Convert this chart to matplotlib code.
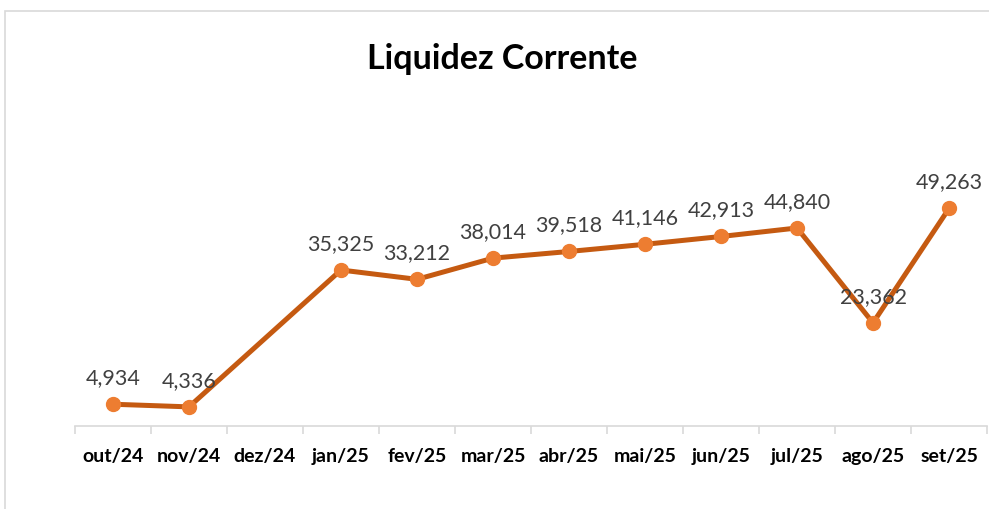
import matplotlib
matplotlib.use('agg')
import matplotlib.pyplot as plt
from matplotlib.patches import Rectangle
import numpy as np

plt.rcParams['font.family'] = ['Lato', 'DejaVu Sans']

months = ['out/24', 'nov/24', 'dez/24', 'jan/25', 'fev/25', 'mar/25',
          'abr/25', 'mai/25', 'jun/25', 'jul/25', 'ago/25', 'set/25']
liquidez = [4.934, 4.336, None, 35.325, 33.212, 38.014,
            39.518, 41.146, 42.913, 44.840, 23.362, 49.263]

line_color = '#C55A11'
marker_color = '#ED7D31'
label_color = '#404040'

fig = plt.figure(figsize=(9.89, 5.10), dpi=100)
ax = fig.add_axes([0.0758, 0.1627, 0.9222, 0.5196])

# chart border (Excel chart area)
fig.patches.append(Rectangle((5 / 989, -0.1), 1.2, 1 - 12 / 510 + 0.1,
                             transform=fig.transFigure, fill=False,
                             edgecolor='#D9D9D9', lw=1.2))

xs = [i for i, v in enumerate(liquidez) if v is not None]
ys = [v for v in liquidez if v is not None]
ax.plot(xs, ys, color=line_color, lw=3.6, solid_capstyle='round', zorder=2)
ax.plot(xs, ys, ls='none', marker='o', ms=10, color=marker_color, zorder=3)

for x, y in zip(xs, ys):
    ax.annotate('{:.3f}'.format(y).replace('.', ','), (x, y),
                xytext=(0, 19.5), textcoords='offset points',
                ha='center', va='center', fontsize=15.5, color=label_color)

ax.set_xlim(-0.5, len(months) - 0.5)
ax.set_ylim(0, 60)

for s in ['top', 'right', 'left']:
    ax.spines[s].set_visible(False)
ax.spines['bottom'].set_color('#D9D9D9')
ax.spines['bottom'].set_linewidth(1.2)
ax.set_yticks([])

ax.set_xticks(np.arange(len(months)))
ax.set_xticklabels(months, fontsize=14, fontweight='bold', color='black')
ax.tick_params(axis='x', which='major', length=0, pad=15)
ax.set_xticks(np.arange(len(months) + 1) - 0.5, minor=True)
ax.tick_params(axis='x', which='minor', length=6, color='#D9D9D9', width=1.2)

fig.text(0.5079, 1 - 59 / 510, 'Liquidez Corrente', ha='center', va='center',
         fontsize=24.5, fontweight='bold', color='black')

plt.savefig('out.png', dpi=100)
